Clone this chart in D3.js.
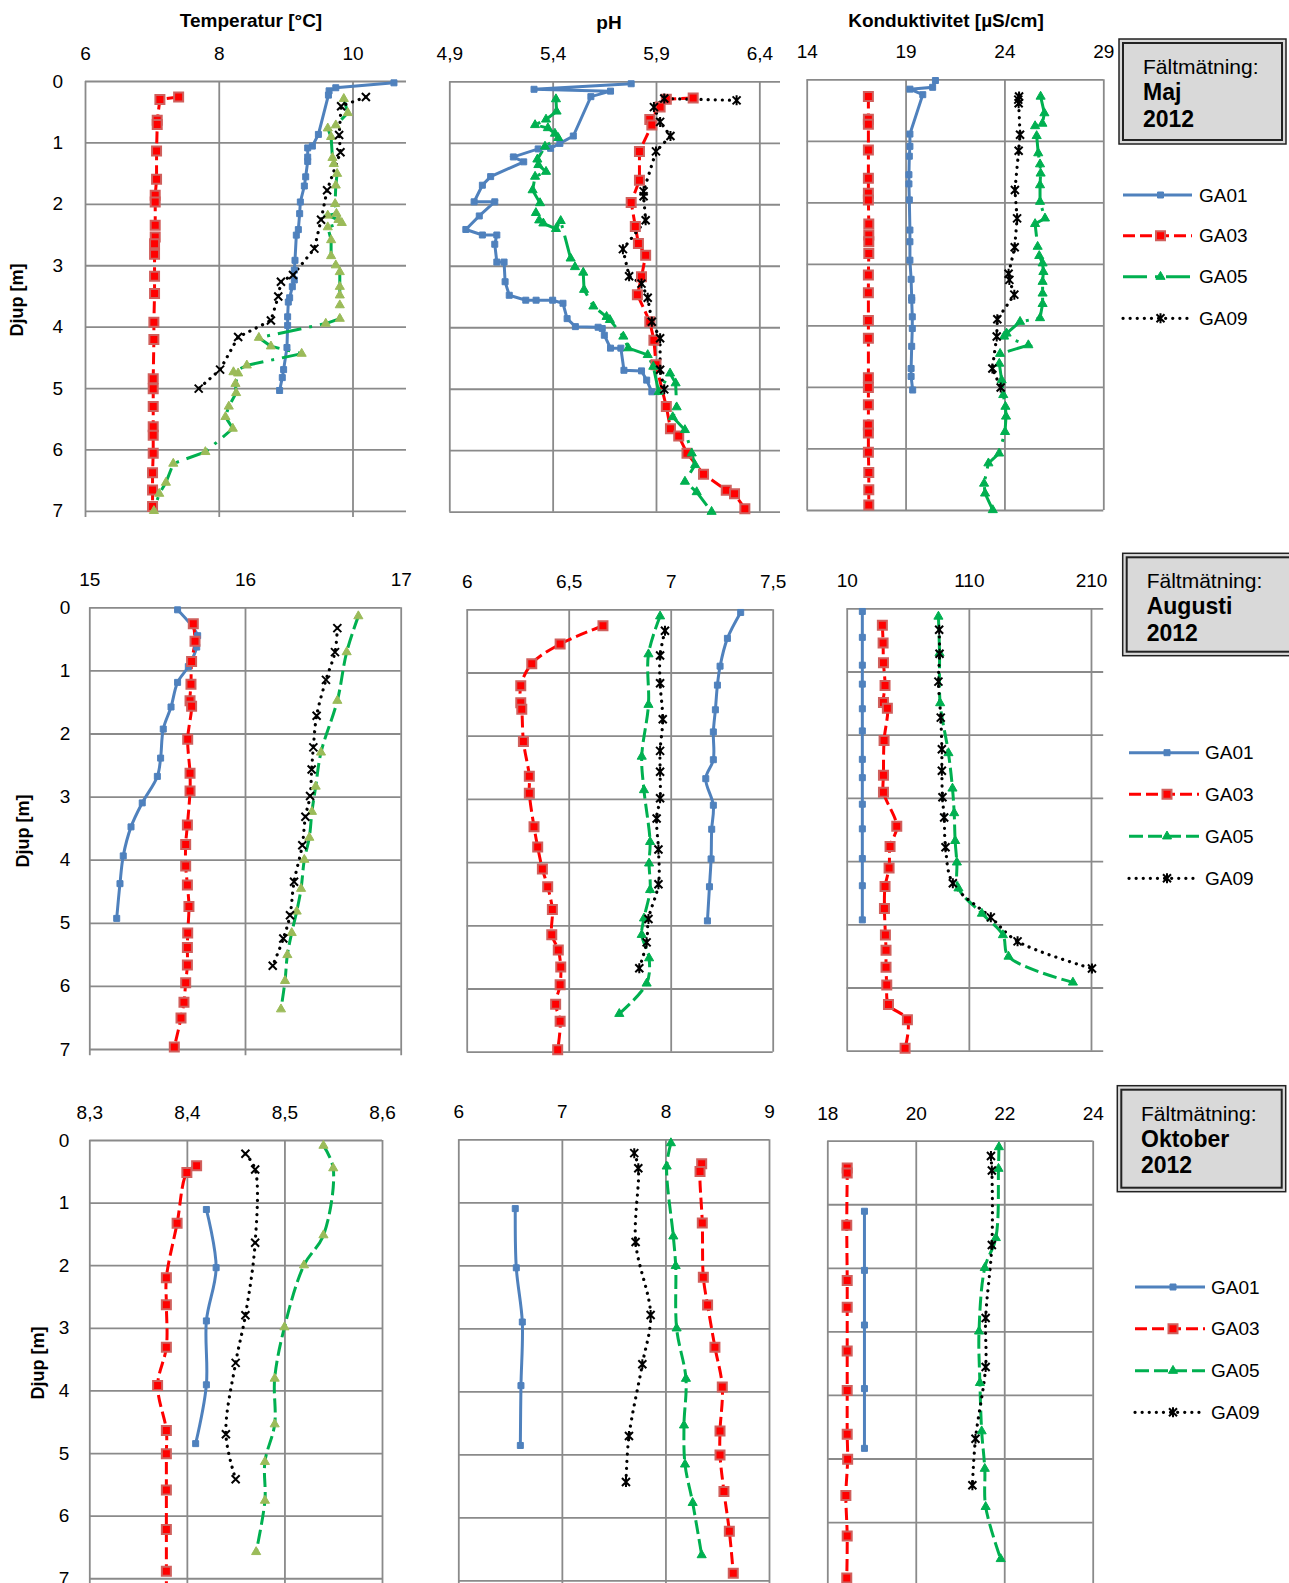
<!DOCTYPE html>
<html>
<head>
<meta charset="utf-8">
<script src="https://cdn.jsdelivr.net/npm/d3@7"></script>
<style>
body { margin: 0; background: #fff; }
svg { display: block; }
text { font-family: "Liberation Sans", Arial, sans-serif; fill: #000; }
</style>
</head>
<body>
<svg id="chart" width="1289" height="1583"></svg>
<script>
// ---- data: [value, depth m] ----
var seriesNames = ["GA01", "GA03", "GA05", "GA09"];
var depthTicks = [0, 1, 2, 3, 4, 5, 6, 7];
var boxTitle = "Fältmätning:";
var months = ["Maj", "Augusti", "Oktober"];
var year = "2012";
var titles = ["Temperatur [°C]", "pH", "Konduktivitet [µS/cm]"];
var depthLabel = "Djup [m]";

var tempTicksMaj = [6, 8, 10];
var phTicksMaj = [4.9, 5.4, 5.9, 6.4];
var kondTicksMaj = [14, 19, 24, 29];
var tempTicksAug = [15, 16, 17];
var phTicksAug = [6, 6.5, 7, 7.5];
var kondTicksAug = [10, 110, 210];
var tempTicksOkt = [8.3, 8.4, 8.5, 8.6];
var phTicksOkt = [6, 7, 8, 9];
var kondTicksOkt = [18, 20, 22, 24];

var majTempGA01 = [[10.62,0.03],[9.75,0.11],[9.65,0.16],[9.64,0.23],[9.49,0.87],[9.40,1.06],[9.33,1.09],[9.33,1.24],[9.33,1.31],[9.30,1.56],[9.28,1.71],[9.22,1.97],[9.21,2.16],[9.19,2.42],[9.16,2.51],[9.14,2.92],[9.13,3.08],[9.13,3.24],[9.10,3.35],[9.06,3.53],[9.04,3.60],[9.03,3.84],[9.03,3.98],[9.02,4.34],[8.97,4.70],[8.95,4.83],[8.91,5.04]];
var majTempGA03 = [[7.40,0.26],[7.12,0.30],[7.08,0.64],[7.08,0.71],[7.07,1.14],[7.07,1.60],[7.05,1.86],[7.05,1.97],[7.05,2.35],[7.05,2.54],[7.04,2.65],[7.04,2.82],[7.04,3.18],[7.04,3.46],[7.03,3.93],[7.03,4.21],[7.02,4.85],[7.02,5.01],[7.02,5.30],[7.02,5.63],[7.02,5.77],[7.02,6.06],[7.01,6.38],[7.01,6.66],[7.01,6.93]];
var majTempGA05 = [[9.87,0.29],[9.93,0.52],[9.75,0.72],[9.63,0.77],[9.68,0.91],[9.70,1.25],[9.72,1.35],[9.77,1.51],[9.75,1.70],[9.74,2.00],[9.76,2.16],[9.63,2.19],[9.79,2.26],[9.84,2.31],[9.63,2.38],[9.68,2.59],[9.68,2.85],[9.75,3.00],[9.81,3.11],[9.81,3.35],[9.81,3.49],[9.81,3.65],[9.81,3.87],[9.60,3.95],[8.60,4.18],[8.78,4.32],[9.24,4.44],[8.42,4.63],[8.22,4.74],[8.29,4.76],[8.25,4.93],[8.26,5.08],[8.15,5.30],[8.10,5.47],[8.21,5.66],[7.80,6.04],[7.32,6.23],[7.21,6.54],[7.11,6.72],[7.03,7.00]];
var majTempGA09 = [[10.20,0.26],[9.83,0.41],[9.80,0.88],[9.82,1.16],[9.62,1.78],[9.53,2.26],[9.43,2.73],[9.11,3.16],[8.93,3.27],[8.89,3.51],[8.78,3.90],[8.29,4.17],[8.02,4.70],[7.70,5.01]];

var majPhGA01 = [[5.78,0.04],[5.31,0.13],[5.68,0.16],[5.585,0.25],[5.50,0.89],[5.435,1.01],[5.39,1.09],[5.33,1.10],[5.21,1.23],[5.26,1.31],[5.10,1.55],[5.06,1.69],[5.02,1.96],[5.12,1.96],[5.045,2.19],[4.98,2.41],[5.06,2.50],[5.13,2.50],[5.12,2.65],[5.13,2.94],[5.165,2.94],[5.17,3.26],[5.19,3.48],[5.27,3.56],[5.32,3.56],[5.40,3.56],[5.45,3.61],[5.47,3.86],[5.51,3.99],[5.62,4.00],[5.64,4.02],[5.65,4.13],[5.68,4.34],[5.73,4.34],[5.745,4.70],[5.83,4.71],[5.855,4.86],[5.88,5.05]];
var majPhGA03 = [[6.08,0.27],[5.95,0.29],[5.92,0.42],[5.87,0.62],[5.88,0.71],[5.82,1.14],[5.82,1.61],[5.78,1.97],[5.80,2.36],[5.815,2.64],[5.85,2.83],[5.83,3.18],[5.81,3.47],[5.87,3.91],[5.89,4.21],[5.90,4.61],[5.95,5.29],[5.97,5.65],[6.01,5.77],[6.05,6.05],[6.13,6.39],[6.24,6.65],[6.28,6.71],[6.33,6.95]];
var majPhGA05 = [[5.416,0.29],[5.419,0.49],[5.368,0.62],[5.315,0.71],[5.377,0.76],[5.411,0.85],[5.427,0.92],[5.363,1.06],[5.326,1.27],[5.331,1.36],[5.368,1.47],[5.315,1.55],[5.303,1.77],[5.339,1.98],[5.319,2.14],[5.335,2.26],[5.355,2.31],[5.416,2.40],[5.439,2.27],[5.487,2.88],[5.508,3.02],[5.548,3.11],[5.552,3.39],[5.597,3.66],[5.661,3.83],[5.677,3.88],[5.742,4.15],[5.766,4.34],[5.860,4.45],[5.887,4.64],[5.913,5.05],[5.968,4.75],[5.995,4.91],[6.000,5.30],[5.981,5.46],[6.040,5.67],[6.073,6.05],[6.089,6.24],[6.040,6.51],[6.097,6.68],[6.169,7.00]];
var majPhGA09 = [[6.29,0.31],[5.94,0.28],[5.89,0.42],[5.92,0.66],[5.97,0.89],[5.90,1.14],[5.84,1.79],[5.84,1.87],[5.85,2.26],[5.74,2.73],[5.77,3.17],[5.83,3.29],[5.86,3.52],[5.88,3.91],[5.92,4.18],[5.92,4.69],[5.94,5.01]];

var majKondGA01 = [[20.51,0.02],[20.37,0.13],[19.22,0.16],[19.87,0.25],[19.22,0.89],[19.22,1.09],[19.19,1.25],[19.17,1.55],[19.17,1.70],[19.19,1.96],[19.22,2.45],[19.22,2.64],[19.22,2.94],[19.28,3.25],[19.31,3.55],[19.31,3.59],[19.34,3.86],[19.34,4.05],[19.31,4.34],[19.28,4.70],[19.28,4.83],[19.36,5.05]];
var majKondGA03 = [[17.12,0.28],[17.12,0.65],[17.12,0.73],[17.12,1.15],[17.12,1.61],[17.12,1.85],[17.12,1.96],[17.14,2.35],[17.14,2.53],[17.14,2.64],[17.14,2.83],[17.12,3.18],[17.12,3.47],[17.12,3.92],[17.12,4.21],[17.12,4.85],[17.12,5.01],[17.12,5.29],[17.12,5.62],[17.12,5.75],[17.12,6.06],[17.14,6.39],[17.14,6.67],[17.14,6.92]];
var majKondGA05 = [[25.83,0.28],[26.02,0.55],[25.92,0.72],[25.55,0.76],[25.63,0.92],[25.71,1.20],[25.80,1.38],[25.83,1.53],[25.80,1.72],[25.80,1.99],[26.05,2.26],[25.55,2.35],[25.68,2.72],[25.76,2.87],[25.93,2.99],[25.97,3.13],[25.93,3.29],[25.93,3.48],[25.93,3.65],[25.80,3.88],[24.79,3.94],[24.11,4.13],[23.98,4.18],[25.21,4.32],[23.78,4.46],[23.74,4.62],[23.86,4.89],[23.94,5.13],[24.05,5.32],[24.08,5.48],[24.03,5.73],[23.73,6.08],[23.19,6.24],[22.97,6.57],[23.02,6.73],[23.41,7.00]];
var majKondGA09 = [[24.74,0.28],[24.70,0.33],[24.72,0.39],[24.79,0.90],[24.72,1.16],[24.53,1.80],[24.64,2.26],[24.52,2.73],[24.21,3.16],[24.25,3.26],[24.50,3.50],[23.64,3.90],[23.61,4.18],[23.39,4.70],[23.81,5.01]];

var augTempGA01 = [[15.567,0.04],[15.696,0.45],[15.690,0.63],[15.636,0.94],[15.567,1.19],[15.525,1.58],[15.475,1.93],[15.458,2.39],[15.437,2.68],[15.340,3.10],[15.268,3.48],[15.218,3.94],[15.197,4.38],[15.176,4.93]];
var augTempGA03 = [[15.668,0.26],[15.679,0.54],[15.657,0.86],[15.653,1.22],[15.647,1.48],[15.657,1.57],[15.632,2.09],[15.647,2.63],[15.647,2.91],[15.630,3.45],[15.619,3.76],[15.619,4.10],[15.630,4.40],[15.640,4.74],[15.632,5.16],[15.630,5.39],[15.630,5.67],[15.619,5.95],[15.608,6.26],[15.589,6.51],[15.546,6.97]];
var augTempGA05 = [[16.728,0.14],[16.653,0.71],[16.593,1.48],[16.488,2.30],[16.454,2.84],[16.430,3.24],[16.413,3.65],[16.381,4.00],[16.360,4.46],[16.332,4.82],[16.300,5.16],[16.272,5.51],[16.257,5.92],[16.231,6.37]];
var augTempGA09 = [[16.593,0.33],[16.578,0.71],[16.520,1.15],[16.460,1.72],[16.439,2.22],[16.428,2.57],[16.418,2.99],[16.388,3.32],[16.368,3.77],[16.315,4.35],[16.289,4.88],[16.246,5.25],[16.178,5.68]];

var augPhGA01 = [[7.343,0.05],[7.278,0.46],[7.242,0.90],[7.229,1.20],[7.219,1.59],[7.209,1.94],[7.209,2.38],[7.172,2.68],[7.209,3.10],[7.201,3.48],[7.198,3.95],[7.190,4.39],[7.180,4.93]];
var augPhGA03 = [[6.668,0.26],[6.458,0.55],[6.319,0.86],[6.265,1.21],[6.265,1.48],[6.270,1.58],[6.278,2.09],[6.307,2.64],[6.307,2.91],[6.330,3.44],[6.348,3.76],[6.371,4.11],[6.397,4.39],[6.420,4.75],[6.417,5.15],[6.449,5.39],[6.461,5.66],[6.458,5.94],[6.436,6.25],[6.458,6.52],[6.446,6.97]];
var augPhGA05 = [[6.948,0.11],[6.891,0.71],[6.891,1.51],[6.858,2.33],[6.869,2.86],[6.899,3.68],[6.894,4.02],[6.899,4.44],[6.869,4.89],[6.858,5.15],[6.894,5.52],[6.882,5.92],[6.748,6.40]];
var augPhGA09 = [[6.972,0.34],[6.948,0.73],[6.948,1.17],[6.961,1.74],[6.948,2.24],[6.948,2.57],[6.948,2.99],[6.931,3.31],[6.940,3.80],[6.940,4.35],[6.891,4.90],[6.882,5.27],[6.846,5.68]];

var augKondGA01 = [[22.8,0.05],[22.8,0.46],[22.8,0.90],[22.8,1.20],[22.8,1.59],[22.8,1.94],[22.8,2.39],[22.8,2.68],[22.8,3.10],[22.8,3.49],[22.8,3.96],[22.8,4.39],[22.8,4.93]];
var augKondGA03 = [[39.2,0.27],[39.8,0.55],[40.1,0.86],[41.4,1.22],[40.1,1.49],[43.3,1.58],[40.6,2.09],[40.1,2.64],[40.1,2.91],[51.0,3.45],[45.5,3.77],[44.7,4.11],[41.4,4.40],[40.9,4.75],[41.7,5.17],[42.2,5.41],[42.2,5.68],[42.8,5.96],[44.2,6.27],[59.7,6.51],[57.8,6.96]];
var augKondGA05 = [[85.1,0.13],[86.0,0.71],[86.5,1.50],[93.3,2.29],[96.6,2.85],[98.0,3.24],[98.8,3.68],[100.2,4.02],[101.5,4.43],[120.7,4.83],[137.9,5.17],[142.5,5.51],[195.2,5.92]];
var augKondGA09 = [[85.7,0.34],[86.0,0.72],[85.1,1.16],[87.0,1.73],[87.9,2.23],[87.9,2.57],[88.4,2.99],[89.8,3.31],[90.9,3.78],[96.9,4.35],[128.0,4.89],[149.9,5.27],[210.8,5.70]];

var oktTempGA01 = [[8.420,1.11],[8.430,2.04],[8.420,2.89],[8.420,3.91],[8.409,4.85]];
var oktTempGA03 = [[8.410,0.41],[8.400,0.52],[8.390,1.33],[8.379,2.20],[8.379,2.63],[8.379,3.31],[8.370,3.92],[8.379,4.64],[8.379,5.01],[8.379,5.59],[8.379,6.22],[8.379,6.89],[8.379,7.30]];
var oktTempGA05 = [[8.540,0.09],[8.550,0.45],[8.540,1.52],[8.520,2.00],[8.500,2.99],[8.490,3.81],[8.490,4.54],[8.480,5.14],[8.480,5.76],[8.471,6.58]];
var oktTempGA09 = [[8.460,0.22],[8.470,0.47],[8.470,1.64],[8.460,2.80],[8.450,3.56],[8.440,4.70],[8.450,5.42]];

var oktPhGA01 = [[6.550,1.10],[6.560,2.04],[6.618,2.90],[6.605,3.91],[6.599,4.86]];
var oktPhGA03 = [[8.350,0.39],[8.334,0.51],[8.356,1.33],[8.366,2.19],[8.407,2.63],[8.478,3.30],[8.549,3.93],[8.527,4.63],[8.527,5.01],[8.565,5.59],[8.617,6.22],[8.655,6.89]];
var oktPhGA05 = [[8.053,0.06],[8.012,0.43],[8.076,1.54],[8.099,2.01],[8.108,3.00],[8.198,3.80],[8.179,4.54],[8.189,5.16],[8.263,5.77],[8.350,6.60]];
var oktPhGA09 = [[7.699,0.22],[7.738,0.46],[7.712,1.63],[7.857,2.79],[7.777,3.57],[7.648,4.71],[7.619,5.44]];

var oktKondGA01 = [[18.84,1.11],[18.84,2.04],[18.84,2.90],[18.84,3.90],[18.84,4.84]];
var oktKondGA03 = [[18.45,0.43],[18.45,0.51],[18.44,1.33],[18.45,2.20],[18.45,2.62],[18.45,3.31],[18.45,3.93],[18.45,4.62],[18.46,5.01],[18.42,5.58],[18.45,6.22],[18.44,6.88]];
var oktKondGA05 = [[21.88,0.10],[21.87,0.44],[21.81,1.53],[21.56,2.00],[21.43,3.00],[21.45,3.81],[21.49,4.57],[21.56,5.16],[21.58,5.76],[21.92,6.58]];
var oktKondGA09 = [[21.70,0.24],[21.72,0.47],[21.72,1.64],[21.58,2.79],[21.58,3.56],[21.35,4.69],[21.28,5.42]];

// ---- layout (pixels) ----
var panels = [
    { ticks: tempTicksMaj, domain: [6, 10.8], xr: [85, 406], ymax: 7.1, yr: [81, 517], row: 0, kind: "temp",
      series: [majTempGA01, majTempGA03, majTempGA05, majTempGA09], yLabels: 22 },
    { ticks: phTicksMaj, domain: [4.9, 6.5], xr: [449.3, 780], ymax: 7, yr: [81.3, 511.7], row: 0, kind: "ph",
      series: [majPhGA01, majPhGA03, majPhGA05, majPhGA09] },
    { ticks: kondTicksMaj, domain: [14, 29], xr: [806.7, 1103.3], ymax: 7, yr: [79.3, 510], row: 0, kind: "kond",
      series: [majKondGA01, majKondGA03, majKondGA05, majKondGA09] },
    { ticks: tempTicksAug, domain: [15, 17], xr: [89.3, 400.7], ymax: 7.1, yr: [607.3, 1055.3], row: 1, kind: "temp",
      series: [augTempGA01, augTempGA03, augTempGA05, augTempGA09], yLabels: 19 },
    { ticks: phTicksAug, domain: [6, 7.5], xr: [466.7, 772.7], ymax: 7, yr: [609.3, 1051.7], row: 1, kind: "ph",
      series: [augPhGA01, augPhGA03, augPhGA05, augPhGA09] },
    { ticks: kondTicksAug, domain: [10, 220], xr: [846.7, 1103.2], ymax: 7, yr: [608.3, 1050.7], row: 1, kind: "kond",
      series: [augKondGA01, augKondGA03, augKondGA05, augKondGA09] },
    { ticks: tempTicksOkt, domain: [8.3, 8.6], xr: [89.3, 382], ymax: 7.1, yr: [1140, 1584.5], row: 2, kind: "temp",
      series: [oktTempGA01, oktTempGA03, oktTempGA05, oktTempGA09], yLabels: 20 },
    { ticks: phTicksOkt, domain: [6, 9], xr: [458.3, 769], ymax: 7.1, yr: [1139.3, 1586.6], row: 2, kind: "ph",
      series: [oktPhGA01, oktPhGA03, oktPhGA05, oktPhGA09] },
    { ticks: kondTicksOkt, domain: [18, 24], xr: [827.3, 1092.7], ymax: 7.1, yr: [1140.7, 1592], row: 2, kind: "kond",
      series: [oktKondGA01, oktKondGA03, oktKondGA05, oktKondGA09] }
];

var titlePos = [[251, 27], [609, 29], [946, 27]];
var depthLabelPos = [[17, 300], [23, 831], [38, 1363]];
var boxes = [
    { x: 1119, y: 39, w: 167, h: 105, tx: 1143, lines: [74, 100, 126.5] },
    { x: 1122.7, y: 553.3, w: 175, h: 102.4, tx: 1146.7, lines: [588.3, 614, 640.7] },
    { x: 1117.3, y: 1085.7, w: 168.4, h: 106, tx: 1141, lines: [1121, 1147.3, 1173.3] }
];
var legends = [
    { x1: 1123, x2: 1192, tx: 1199, ys: [195, 235.7, 276.7, 318.3] },
    { x1: 1129, x2: 1199, tx: 1205, ys: [752.7, 794.3, 836.3, 878.3] },
    { x1: 1135, x2: 1205, tx: 1211, ys: [1287, 1328.7, 1370.7, 1412.3] }
];

var colors = { GA01: "#4F81BD", GA03: "#FF0000", GA05: "#00B050", GA09: "#000000" };
var gridColor = "#8a8a8a";

var svg = d3.select("#chart");

function dashFor(name, row) {
    if (name === "GA03") return "12,5";
    if (name === "GA05") return row === 0 ? "24,8,3,8" : "14,5";
    if (name === "GA09") return "0.1,7";
    return null;
}

function markerPath(name, kind) {
    if (name === "GA01") return d3.symbol(d3.symbolSquare, 36)();
    if (name === "GA03") return d3.symbol(d3.symbolSquare, 81)();
    if (name === "GA05") return d3.symbol(d3.symbolTriangle, 36)();
    var p = "M-4,-4L4,4M-4,4L4,-4";
    if (kind !== "temp") p += "M0,-5L0,5";
    return p;
}

function styleMarker(sel, name, kind) {
    if (name === "GA01") sel.attr("fill", colors.GA01).attr("stroke", colors.GA01).attr("stroke-width", 1);
    else if (name === "GA03") sel.attr("fill", "#FF0000").attr("stroke", "#D0605D").attr("stroke-width", 2);
    else if (name === "GA05") {
        var c = kind === "temp" ? "#9BBB59" : "#00B050";
        sel.attr("fill", c).attr("stroke", c).attr("stroke-width", 1);
    } else sel.attr("fill", "none").attr("stroke", "#000").attr("stroke-width", 2);
}

function fmt(d) { return String(d).replace(".", ","); }

panels.forEach(function (p) {
    var x = d3.scaleLinear().domain(p.domain).range(p.xr);
    var y = d3.scaleLinear().domain([0, p.ymax]).range(p.yr);
    var g = svg.append("g");
    var h = p.yr[1] - p.yr[0];
    var w = p.xr[1] - p.xr[0];

    // vertical grid + top labels
    var xAxis = g.append("g").attr("transform", "translate(0," + p.yr[0] + ")")
        .call(d3.axisTop(x).tickValues(p.ticks).tickSize(-h).tickPadding(21).tickFormat(fmt));
    // horizontal grid + depth labels
    var yAxis = g.append("g").attr("transform", "translate(" + p.xr[0] + ",0)")
        .call(d3.axisLeft(y).tickValues(depthTicks).tickSize(-w).tickPadding(p.yLabels || 20)
            .tickFormat(p.yLabels ? d3.format("d") : function () { return ""; }));
    [xAxis, yAxis].forEach(function (a) {
        a.selectAll("line").attr("stroke", gridColor).attr("stroke-width", 1.8);
        a.selectAll("text").attr("font-size", 19).attr("font-family", "'Liberation Sans', Arial, sans-serif").attr("fill", "#000");
    });
    yAxis.select(".domain").remove();
    xAxis.select(".domain").remove();

    var line = d3.line()
        .x(function (d) { return x(d[0]); })
        .y(function (d) { return y(d[1]); })
        .curve(p.row === 0 ? d3.curveLinear : d3.curveCatmullRom.alpha(0.5));

    p.series.forEach(function (data, i) {
        var name = seriesNames[i];
        g.append("path").datum(data)
            .attr("fill", "none")
            .attr("stroke", colors[name])
            .attr("stroke-width", name === "GA09" ? 3.2 : 3)
            .attr("stroke-linecap", name === "GA09" ? "round" : "butt")
            .attr("stroke-dasharray", dashFor(name, p.row))
            .attr("d", line);
    });
    p.series.forEach(function (data, i) {
        var name = seriesNames[i];
        g.selectAll(null).data(data).join("path")
            .attr("transform", function (d) { return "translate(" + x(d[0]) + "," + y(d[1]) + ")"; })
            .attr("d", markerPath(name, p.kind))
            .call(styleMarker, name, p.kind);
    });
});

// titles
titles.forEach(function (t, i) {
    svg.append("text").attr("x", titlePos[i][0]).attr("y", titlePos[i][1])
        .attr("text-anchor", "middle").attr("font-size", 19).attr("font-weight", "bold").text(t);
});
depthLabelPos.forEach(function (pos) {
    svg.append("text").attr("transform", "translate(" + pos[0] + "," + pos[1] + ") rotate(-90)")
        .attr("text-anchor", "middle").attr("dy", "0.35em")
        .attr("font-size", 18).attr("font-weight", "bold").text(depthLabel);
});

// month boxes
boxes.forEach(function (b, i) {
    svg.append("rect").attr("x", b.x).attr("y", b.y).attr("width", b.w).attr("height", b.h)
        .attr("fill", "#D9D9D9").attr("stroke", "#222").attr("stroke-width", 1.5);
    svg.append("rect").attr("x", b.x + 4).attr("y", b.y + 4).attr("width", b.w - 8).attr("height", b.h - 8)
        .attr("fill", "none").attr("stroke", "#222").attr("stroke-width", 2);
    svg.append("text").attr("x", b.tx).attr("y", b.lines[0]).attr("font-size", 21).text(boxTitle);
    svg.append("text").attr("x", b.tx).attr("y", b.lines[1]).attr("font-size", 23).attr("font-weight", "bold").text(months[i]);
    svg.append("text").attr("x", b.tx).attr("y", b.lines[2]).attr("font-size", 23).attr("font-weight", "bold").text(year);
});

// legends
legends.forEach(function (L, row) {
    var kind = "ph";
    seriesNames.forEach(function (name, i) {
        var yy = L.ys[i];
        svg.append("line").attr("x1", L.x1).attr("x2", L.x2).attr("y1", yy).attr("y2", yy)
            .attr("stroke", colors[name]).attr("stroke-width", name === "GA09" ? 3.2 : 3)
            .attr("stroke-linecap", name === "GA09" ? "round" : "butt")
            .attr("stroke-dasharray", dashFor(name, row));
        svg.append("path").attr("transform", "translate(" + ((L.x1 + L.x2) / 2 + 3) + "," + yy + ")")
            .attr("d", markerPath(name, kind)).call(styleMarker, name, kind);
        svg.append("text").attr("x", L.tx).attr("y", yy).attr("dy", "0.35em")
            .attr("font-size", 19).text(name);
    });
});
</script>
</body>
</html>
